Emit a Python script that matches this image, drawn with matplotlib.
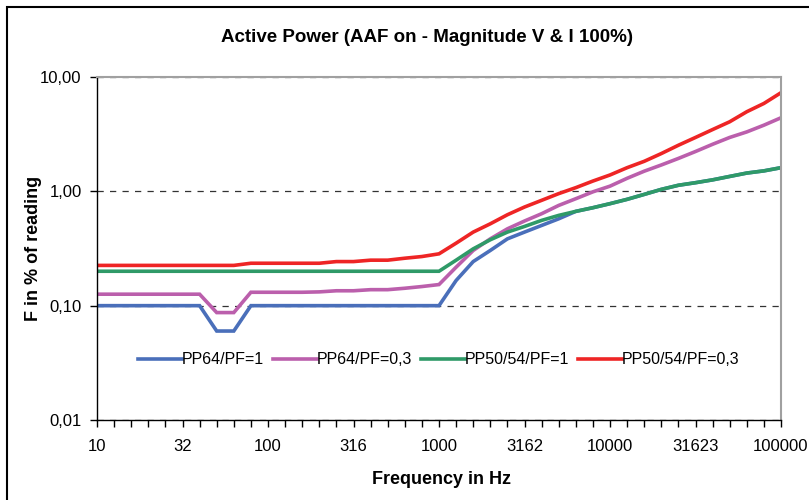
import numpy as np
import matplotlib
matplotlib.use("Agg")
import matplotlib.pyplot as plt
from matplotlib.patches import Rectangle
from matplotlib.ticker import FixedLocator, FixedFormatter, NullFormatter, NullLocator

plt.rcParams['font.family'] = ['Liberation Sans', 'DejaVu Sans']

# frequency grid: ten points per decade, 10 Hz .. 100 kHz
steps = np.arange(41)
freq = 10 ** (1 + steps / 10)

tick_labels = ["10", "32", "100", "316", "1000", "3162", "10000", "31623", "100000"]
y_ticks = [0.01, 0.1, 1.0, 10.0]
y_tick_labels = ["0,01", "0,10", "1,00", "10,00"]

pp64_pf1 = [0.1] * 7 + [0.06, 0.06] + [0.1] * 12 + [
    0.166, 0.243, 0.304, 0.384, 0.44, 0.503, 0.575,
    0.668, 0.719, 0.78, 0.851, 0.94, 1.04, 1.13, 1.19, 1.26, 1.35, 1.445, 1.51, 1.61]

pp64_pf03 = [0.126] * 7 + [0.087, 0.087] + [0.131] * 4 + [
    0.132, 0.135, 0.135, 0.138, 0.138, 0.142, 0.147, 0.153,
    0.217, 0.304, 0.384, 0.47, 0.55, 0.637, 0.753, 0.862, 0.99, 1.11,
    1.3, 1.5, 1.7, 1.94, 2.23, 2.58, 2.96, 3.31, 3.79, 4.4]

pp50_pf1 = [0.2] * 21 + [
    0.25, 0.314, 0.377, 0.44, 0.493, 0.557, 0.616, 0.668, 0.719, 0.78,
    0.851, 0.94, 1.04, 1.13, 1.19, 1.26, 1.35, 1.445, 1.51, 1.61]

pp50_pf03 = [0.225] * 9 + [0.235] * 5 + [0.243, 0.243, 0.25, 0.25, 0.26, 0.269, 0.284,
    0.352, 0.44, 0.52, 0.624, 0.729, 0.834, 0.955, 1.077, 1.23, 1.39,
    1.61, 1.83, 2.14, 2.53, 2.96, 3.47, 4.06, 4.97, 5.87, 7.29]

series = [
    ("PP64/PF=1", pp64_pf1, "#4a6fba"),
    ("PP64/PF=0,3", pp64_pf03, "#bb5fac"),
    ("PP50/54/PF=1", pp50_pf1, "#2f9a68"),
    ("PP50/54/PF=0,3", pp50_pf03, "#ee2525"),
]

fig = plt.figure(figsize=(8.09, 5.0), dpi=100)
ax = fig.add_axes([97 / 809, 80 / 500, 684 / 809, 343 / 500])

for label, vals, color in series:
    ax.plot(freq, vals, color=color, lw=2.6, label=label, solid_joinstyle='miter')

ax.set_xscale('log')
ax.set_yscale('log')
ax.set_xlim(freq[0], freq[-1])
ax.set_ylim(0.01, 10)

# every data point gets a tick, every fifth one a label
ax.xaxis.set_major_locator(FixedLocator(freq[::5]))
ax.xaxis.set_major_formatter(FixedFormatter(tick_labels))
ax.xaxis.set_minor_locator(FixedLocator(freq))
ax.xaxis.set_minor_formatter(NullFormatter())
ax.tick_params(axis='x', which='both', direction='out', length=5, width=1, labelsize=12, pad=9)

ax.yaxis.set_major_locator(FixedLocator(y_ticks))
ax.yaxis.set_major_formatter(FixedFormatter(y_tick_labels))
ax.yaxis.set_minor_locator(NullLocator())
ax.tick_params(axis='y', direction='out', length=5, width=1, labelsize=12, pad=6)

ax.yaxis.grid(True, which='major', color='#333333', ls=(0, (5, 5)), lw=0.9)

for side in ['top', 'right']:
    ax.spines[side].set_color('#a0a0a0')
    ax.spines[side].set_linewidth(1.5)
for side in ['left', 'bottom']:
    ax.spines[side].set_color('black')
    ax.spines[side].set_linewidth(1.0)

ax.set_xlabel("Frequency in Hz", fontsize=13, fontweight='bold')
ax.set_ylabel("F in % of reading", fontsize=13, fontweight='bold')
ax.xaxis.set_label_coords(0.504, -0.15)
ax.yaxis.set_label_coords(-0.08, 0.5)
fig.text(427 / 809, 1 - 37 / 500, "Active Power (AAF on - Magnitude V & I 100%)",
         ha='center', va='center', fontsize=13.5, fontweight='bold')

ax.legend(loc='center', bbox_to_anchor=(0.5, 0.175), ncol=4, frameon=False,
          fontsize=11.5, handlelength=2.75, handletextpad=0.0, columnspacing=0.55)

fig.patches.append(Rectangle((7 / 809, -0.1), 1.1, 1 - 7 / 500 + 0.1,
                             transform=fig.transFigure, fill=False,
                             edgecolor='black', lw=1.5))

fig.savefig("out.png", dpi=100)
